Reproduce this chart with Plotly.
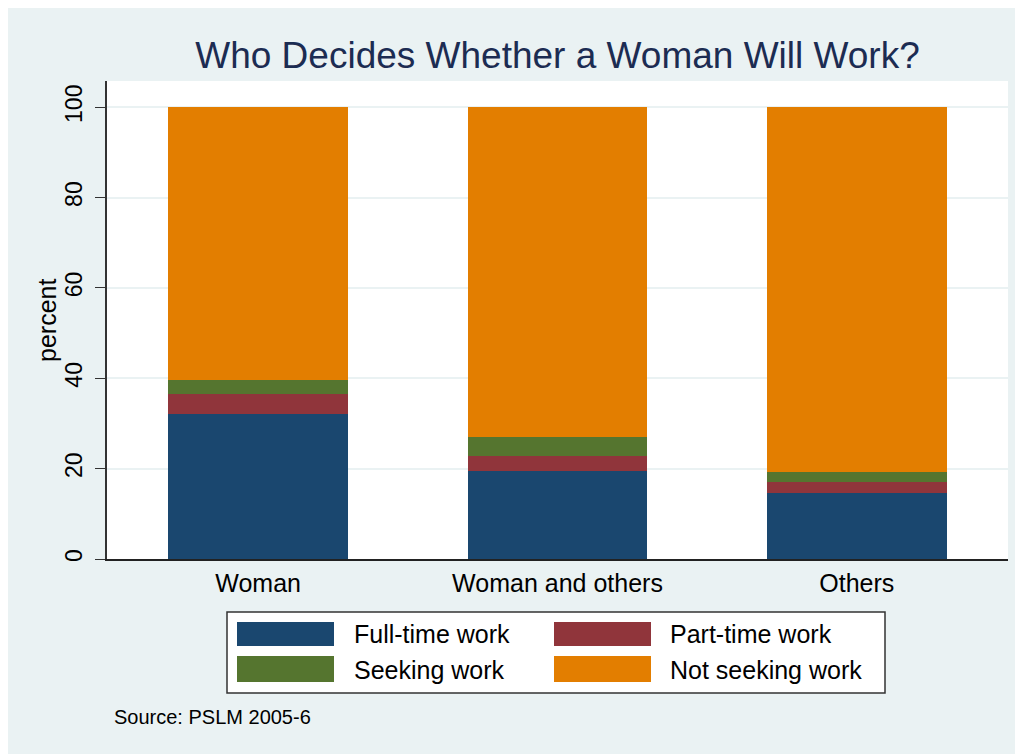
import plotly.graph_objects as go

# ---- data ----
categories = ["Woman", "Woman and others", "Others"]
series_names = ["Full-time work", "Part-time work", "Seeking work", "Not seeking work"]
full_time = [32.2, 19.5, 14.5]
part_time = [4.3, 3.2, 2.5]
seeking = [3.2, 4.4, 2.2]
not_seeking = [60.3, 72.9, 80.8]
y_ticks = [0, 20, 40, 60, 80, 100]

series_values = [full_time, part_time, seeking, not_seeking]
colors = ["#1A476F", "#90353B", "#55752F", "#E37E00"]

OFF = 8  # page body margin
W, H = 1023, 754
L, T = 107 - OFF, 81 - OFF
R = W - (1008 - OFF)
B = H - (559 - OFF)
pw, ph = W - L - R, H - T - B

def px_x(x):
    return (x - OFF - L) / pw

def px_y(y):
    return (H - B - (y - OFF)) / ph

fig = go.Figure()
for name, vals, col in zip(series_names, series_values, colors):
    fig.add_trace(go.Bar(
        x=categories, y=vals, name=name, width=0.6,
        marker=dict(color=col, line=dict(width=0)),
        showlegend=False,
    ))

font_family = "Liberation Sans, Arial, sans-serif"

fig.update_layout(
    width=W, height=H,
    margin=dict(l=L, r=R, t=T, b=B, pad=0),
    barmode="stack",
    paper_bgcolor="#EAF2F3",
    plot_bgcolor="#FFFFFF",
    font=dict(family=font_family, color="#000000"),
    title=dict(
        text="Who Decides Whether a Woman Will Work?",
        x=0.5, xref="paper", xanchor="center",
        y=1 - (55 - OFF) / H, yref="container", yanchor="middle",
        font=dict(size=37, color="#1C2C52", family=font_family),
    ),
    xaxis=dict(
        type="category",
        range=[-0.505, 2.505],
        showgrid=False,
        showline=True, linecolor="#222222", linewidth=1.5,
        ticks="", tickfont=dict(size=25, color="#000000"),
        ticklabelstandoff=1,
        zeroline=False,
    ),
    yaxis=dict(
        range=[0, 105.8],
        tickvals=y_ticks,
        ticktext=[str(v) for v in y_ticks],
        tickangle=-90,
        ticks="outside", ticklen=10, tickwidth=1.2, tickcolor="#333333",
        tickfont=dict(size=23, color="#000000"),
        showgrid=True, gridcolor="#EAF2F3", gridwidth=2,
        showline=True, linecolor="#333333", linewidth=1.5,
        zeroline=False,
        ticklabelstandoff=4,
    ),
)

# y-axis title
fig.add_annotation(
    text="percent", textangle=-90,
    x=px_x(47), y=px_y(320), xref="paper", yref="paper",
    xanchor="center", yanchor="middle", showarrow=False,
    font=dict(size=25, color="#000000", family=font_family),
)

# legend box
fig.add_shape(type="rect", xref="paper", yref="paper",
              x0=px_x(227), x1=px_x(885), y0=px_y(693), y1=px_y(612),
              fillcolor="#FFFFFF", line=dict(color="#333333", width=1.5))

sw_x = [237, 554]
sw_w = 97
sw_y = [(622, 646), (656, 682)]
txt_x = [352, 668]
txt_y = [634, 670]
for i, (name, col) in enumerate(zip(series_names, colors)):
    row, c = divmod(i, 2)
    fig.add_shape(type="rect", xref="paper", yref="paper",
                  x0=px_x(sw_x[c]), x1=px_x(sw_x[c] + sw_w),
                  y0=px_y(sw_y[row][1]), y1=px_y(sw_y[row][0]),
                  fillcolor=col, line=dict(width=0))
    fig.add_annotation(text=name, x=px_x(txt_x[c]), y=px_y(txt_y[row]),
                       xref="paper", yref="paper", xanchor="left", yanchor="middle",
                       showarrow=False,
                       font=dict(size=25, color="#000000", family=font_family))

# source note
fig.add_annotation(text="Source: PSLM 2005-6", x=px_x(112), y=px_y(717),
                   xref="paper", yref="paper", xanchor="left", yanchor="middle",
                   showarrow=False,
                   font=dict(size=20, color="#000000", family=font_family))

fig.write_html("out.html", post_script="document.body.style.overflow='hidden';")
